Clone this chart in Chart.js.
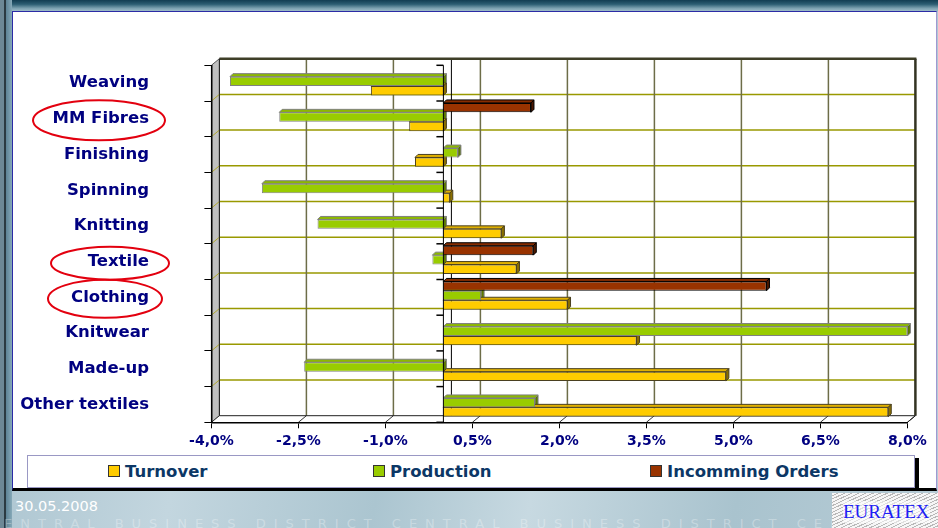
<!DOCTYPE html>
<html lang="en">
<head>
<meta charset="UTF-8">
<title>Sector growth 2008</title>
<script src="https://cdn.jsdelivr.net/npm/chart.js"></script>
<style>
    body {
        margin: 0;
        width: 938px;
        height: 528px;
        overflow: hidden;
        position: relative;
        font-family: "DejaVu Sans", Verdana, sans-serif;
        background: linear-gradient(100deg, #a4bfcb 0%, #c3d6df 25%, #abc5d0 45%, #c7d9e1 60%, #a9c3ce 80%, #b7ccd6 100%);
    }
    .top-strip {
        position: absolute; left: 0; top: 0; width: 938px; height: 12px;
        background: linear-gradient(to bottom, #123d52 0%, #2c5d72 35%, #7ea3b2 70%, #a9c4ce 100%);
    }
    .left-strip {
        position: absolute; left: 0; top: 0; width: 12px; height: 528px;
        background: linear-gradient(to right, #6d8896 0, #6d8896 4px, #2b3a42 4px, #2b3a42 6px, #5d8396 6px, #86a9b8 12px);
    }
    .panel {
        position: absolute; left: 12px; top: 11px; width: 923px; height: 476px;
        background: #fff;
        border-left: 1px solid #2b2ba6;
        border-top: 1px solid #2b2ba6;
        border-right: 1px solid #9f99d2;
        border-bottom: 3px solid #000;
    }
    .legend {
        position: absolute; left: 27px; top: 455px; width: 886px; height: 31px;
        background: #fff;
        border: 1px solid #9a98c4;
        box-shadow: 4px 3px 0 #000;
        font-weight: bold;
        font-size: 16.5px;
        color: #0c3766;
    }
    .legend span {
        position: absolute; top: 6px; white-space: nowrap;
    }
    .legend i {
        display: inline-block; width: 10px; height: 10px;
        border: 1px solid #333; margin-right: 5px; vertical-align: 0;
    }
    .date {
        position: absolute; left: 15px; top: 498px;
        color: #fff; font-size: 14.5px;
    }
    .motto {
        position: absolute; left: 4px; top: 516px; height: 12px; overflow: hidden;
        color: rgba(255, 255, 255, 0.3); font-size: 13px; letter-spacing: 8px; white-space: nowrap;
    }
    .logo {
        position: absolute; left: 832px; top: 493px; width: 106px; height: 35px;
        background: repeating-linear-gradient(155deg, #f6f6f6 0, #f6f6f6 2px, #b8b8b8 2px, #b8b8b8 3px);
    }
    .logo b {
        position: absolute; left: 11px; top: 8px;
        font: normal 19px "Liberation Serif", "Times New Roman", serif;
        color: #1e1ef5; background: rgba(255, 255, 255, 0.55);
    }
    canvas { position: absolute; left: 0; top: 0; }
</style>
</head>
<body>
<div class="top-strip"></div>
<div class="left-strip"></div>
<div class="panel"></div>
<div class="legend">
    <span style="left:80px"><i style="background:#ffcc00"></i>Turnover</span>
    <span style="left:345px"><i style="background:#99cc00"></i>Production</span>
    <span style="left:622px"><i style="background:#993300"></i>Incomming Orders</span>
</div>
<div class="date">30.05.2008</div>
<div class="motto">ENTRAL BUSINESS DISTRICT CENTRAL BUSINESS DISTRICT CENTRAL BUSINESS DISTRICT</div>
<div class="logo"><b>EURATEX</b></div>
<canvas id="chart" width="938" height="528"></canvas>

<script>
// growth rates in %, one value per sector
const sectors = ['Weaving', 'MM Fibres', 'Finishing', 'Spinning', 'Knitting',
                 'Textile', 'Clothing', 'Knitwear', 'Made-up', 'Other textiles'];
const turnover = [-1.25, -0.59, -0.49, 0.11, 1.0, 1.26, 2.14, 3.33, 4.87, 7.67];
const production = [-3.68, -2.83, 0.25, -3.13, -2.17, -0.19, 0.65, 8.0, -2.40, 1.58];
const incomingOrders = [null, 1.51, null, null, null, 1.55, 5.57, null, null, null];
const xTicks = [-4, -2.5, -1, 0.5, 2, 3.5, 5, 6.5, 8];
const circled = ['MM Fibres', 'Textile', 'Clothing'];

// look of the fake 3D box and bars
const wallDepth = { x: 8, y: -6.6 };
const barDepth = 3;
const barLift = 1.8;   // bars sit a little above the band centre
const faceColors = {
    'Incomming Orders': { top: '#862c00', side: '#4a1800', line: '#000000' },
    'Production': { top: '#8cb800', side: '#5b7800', line: '#808080' },
    'Turnover': { top: '#e0b000', side: '#8a6f00', line: '#4a4020' }
};
// hand drawn rings round some labels: centre x and radii
const rings = {
    'MM Fibres': { cx: 99, rx: 66, ry: 20 },
    'Textile': { cx: 110, rx: 59, ry: 16.5 },
    'Clothing': { cx: 105, rx: 57, ry: 19 }
};

function poly(ctx, pts, fill, stroke) {
    ctx.beginPath();
    ctx.moveTo(pts[0][0], pts[0][1]);
    for (let i = 1; i < pts.length; i++) ctx.lineTo(pts[i][0], pts[i][1]);
    ctx.closePath();
    if (fill) { ctx.fillStyle = fill; ctx.fill(); }
    if (stroke) { ctx.strokeStyle = stroke; ctx.lineWidth = 1; ctx.stroke(); }
}

function line(ctx, x1, y1, x2, y2, color, width) {
    ctx.beginPath();
    ctx.moveTo(x1, y1);
    ctx.lineTo(x2, y2);
    ctx.strokeStyle = color;
    ctx.lineWidth = width;
    ctx.stroke();
}

const box3d = {
    id: 'box3d',
    afterDatasetsUpdate(chart) {
        chart.data.datasets.forEach((ds, di) => {
            chart.getDatasetMeta(di).data.forEach(bar => { bar.y -= barLift; });
        });
    },
    beforeDraw(chart) {
        const { ctx, chartArea: a, scales: { x, y } } = chart;
        const dx = wallDepth.x, dy = wallDepth.y;
        ctx.save();
        // left wall and floor
        poly(ctx, [[a.left, a.top], [a.left + dx, a.top + dy], [a.left + dx, a.bottom + dy], [a.left, a.bottom]], '#c0c0c0', '#555');
        poly(ctx, [[a.left, a.bottom], [a.right, a.bottom], [a.right + dx, a.bottom + dy], [a.left + dx, a.bottom + dy]], '#fff', null);
        // horizontal grid on back wall + its edges on the left wall
        for (let i = 1; i < sectors.length; i++) {
            const yb = y.getPixelForValue(i - 0.5);
            line(ctx, a.left + dx, yb + dy, a.right + dx, yb + dy, '#999900', 1.5);
            line(ctx, a.left, yb, a.left + dx, yb + dy, '#b0a830', 1);
        }
        // vertical grid on back wall and floor
        xTicks.forEach((v, i) => {
            const xp = x.getPixelForValue(v);
            if (i > 0 && i < xTicks.length - 1) {
                line(ctx, xp + dx, a.top + dy, xp + dx, a.bottom + dy, '#6d6d48', 1.5);
            }
            line(ctx, xp, a.bottom, xp + dx, a.bottom + dy, '#333', 1);
        });
        // zero line on the back wall
        const x0 = x.getPixelForValue(0);
        line(ctx, x0 + dx, a.top + dy, x0 + dx, a.bottom + dy, '#000', 1);
        // frame of the back wall
        line(ctx, a.left + dx, a.top + dy, a.right + dx + 1, a.top + dy, '#3f3f28', 2.5);
        line(ctx, a.right + dx, a.top + dy, a.right + dx, a.bottom + dy, '#333322', 2.5);
        line(ctx, a.left + dx, a.top + dy, a.left + dx, a.bottom + dy, '#222', 1);
        line(ctx, a.left + dx, a.bottom + dy, a.right + dx, a.bottom + dy, '#222', 1);
        line(ctx, a.right, a.bottom, a.right + dx, a.bottom + dy, '#222', 1);
        ctx.restore();
    },
    beforeDatasetsDraw(chart) {
        const { ctx } = chart;
        const d = barDepth;
        ctx.save();
        chart.data.datasets.forEach((ds, di) => {
            const c = faceColors[ds.label];
            chart.getDatasetMeta(di).data.forEach((bar, j) => {
                if (ds.data[j] === null) return;
                const l = Math.min(bar.x, bar.base), r = Math.max(bar.x, bar.base);
                const t = bar.y - bar.height / 2, b = bar.y + bar.height / 2;
                poly(ctx, [[l, t], [l + d, t - d], [r + d, t - d], [r, t]], c.top, c.line);
                poly(ctx, [[r, t], [r + d, t - d], [r + d, b - d], [r, b]], c.side, c.line);
            });
        });
        ctx.restore();
    },
    afterDatasetsDraw(chart) {
        const { ctx, chartArea: a, scales: { x, y } } = chart;
        const x0 = x.getPixelForValue(0);
        ctx.save();
        line(ctx, x0, a.top, x0, a.bottom, '#000', 1);
        for (let i = 0; i <= sectors.length; i++) {
            const yb = y.getPixelForValue(i - 0.5);
            line(ctx, x0 - 7, yb, x0, yb, '#000', 1.5);
        }
        // rings round the highlighted sectors
        circled.forEach(name => {
            const r = rings[name];
            const yc = y.getPixelForValue(sectors.indexOf(name)) + 1.5;
            ctx.beginPath();
            ctx.ellipse(r.cx, yc, r.rx, r.ry, 0, 0, Math.PI * 2);
            ctx.strokeStyle = '#e3000f';
            ctx.lineWidth = 2;
            ctx.stroke();
        });
        ctx.restore();
    }
};

const axisFont = { family: 'DejaVu Sans', weight: 'bold' };

new Chart(document.getElementById('chart'), {
    type: 'bar',
    data: {
        labels: sectors,
        datasets: [
            { label: 'Incomming Orders', data: incomingOrders, backgroundColor: '#993300', borderColor: '#000000', borderWidth: 1 },
            { label: 'Production', data: production, backgroundColor: '#99cc00', borderColor: '#808080', borderWidth: 1 },
            { label: 'Turnover', data: turnover, backgroundColor: '#ffcc00', borderColor: '#4a4020', borderWidth: 1 }
        ]
    },
    options: {
        responsive: false,
        animation: false,
        indexAxis: 'y',
        categoryPercentage: 0.79,
        barPercentage: 1,
        layout: { padding: { left: 0, top: 63.3, right: 30.6, bottom: 75.7 } },
        plugins: {
            legend: { display: false },
            tooltip: { enabled: false }
        },
        scales: {
            x: {
                type: 'linear',
                min: -4,
                max: 8,
                afterBuildTicks: s => { s.ticks = xTicks.map(v => ({ value: v })); },
                afterFit: s => { s.height = 30; },
                grid: { drawOnChartArea: false, tickLength: 6, color: '#000' },
                border: { color: '#000', width: 1.5 },
                ticks: {
                    color: '#000080',
                    font: { ...axisFont, size: 14 },
                    padding: 5,
                    maxRotation: 0,
                    autoSkip: false,
                    callback: v => v.toFixed(1).replace('.', ',') + '%'
                }
            },
            y: {
                type: 'category',
                afterFit: s => { s.width = 211.4; },
                grid: { drawOnChartArea: false, tickLength: 7, color: '#000', offset: true },
                border: { color: '#000', width: 1.5 },
                ticks: {
                    color: '#000080',
                    font: { ...axisFont, size: 16.5 },
                    padding: 55.4,
                    autoSkip: false
                }
            }
        }
    },
    plugins: [box3d]
});
</script>
</body>
</html>
